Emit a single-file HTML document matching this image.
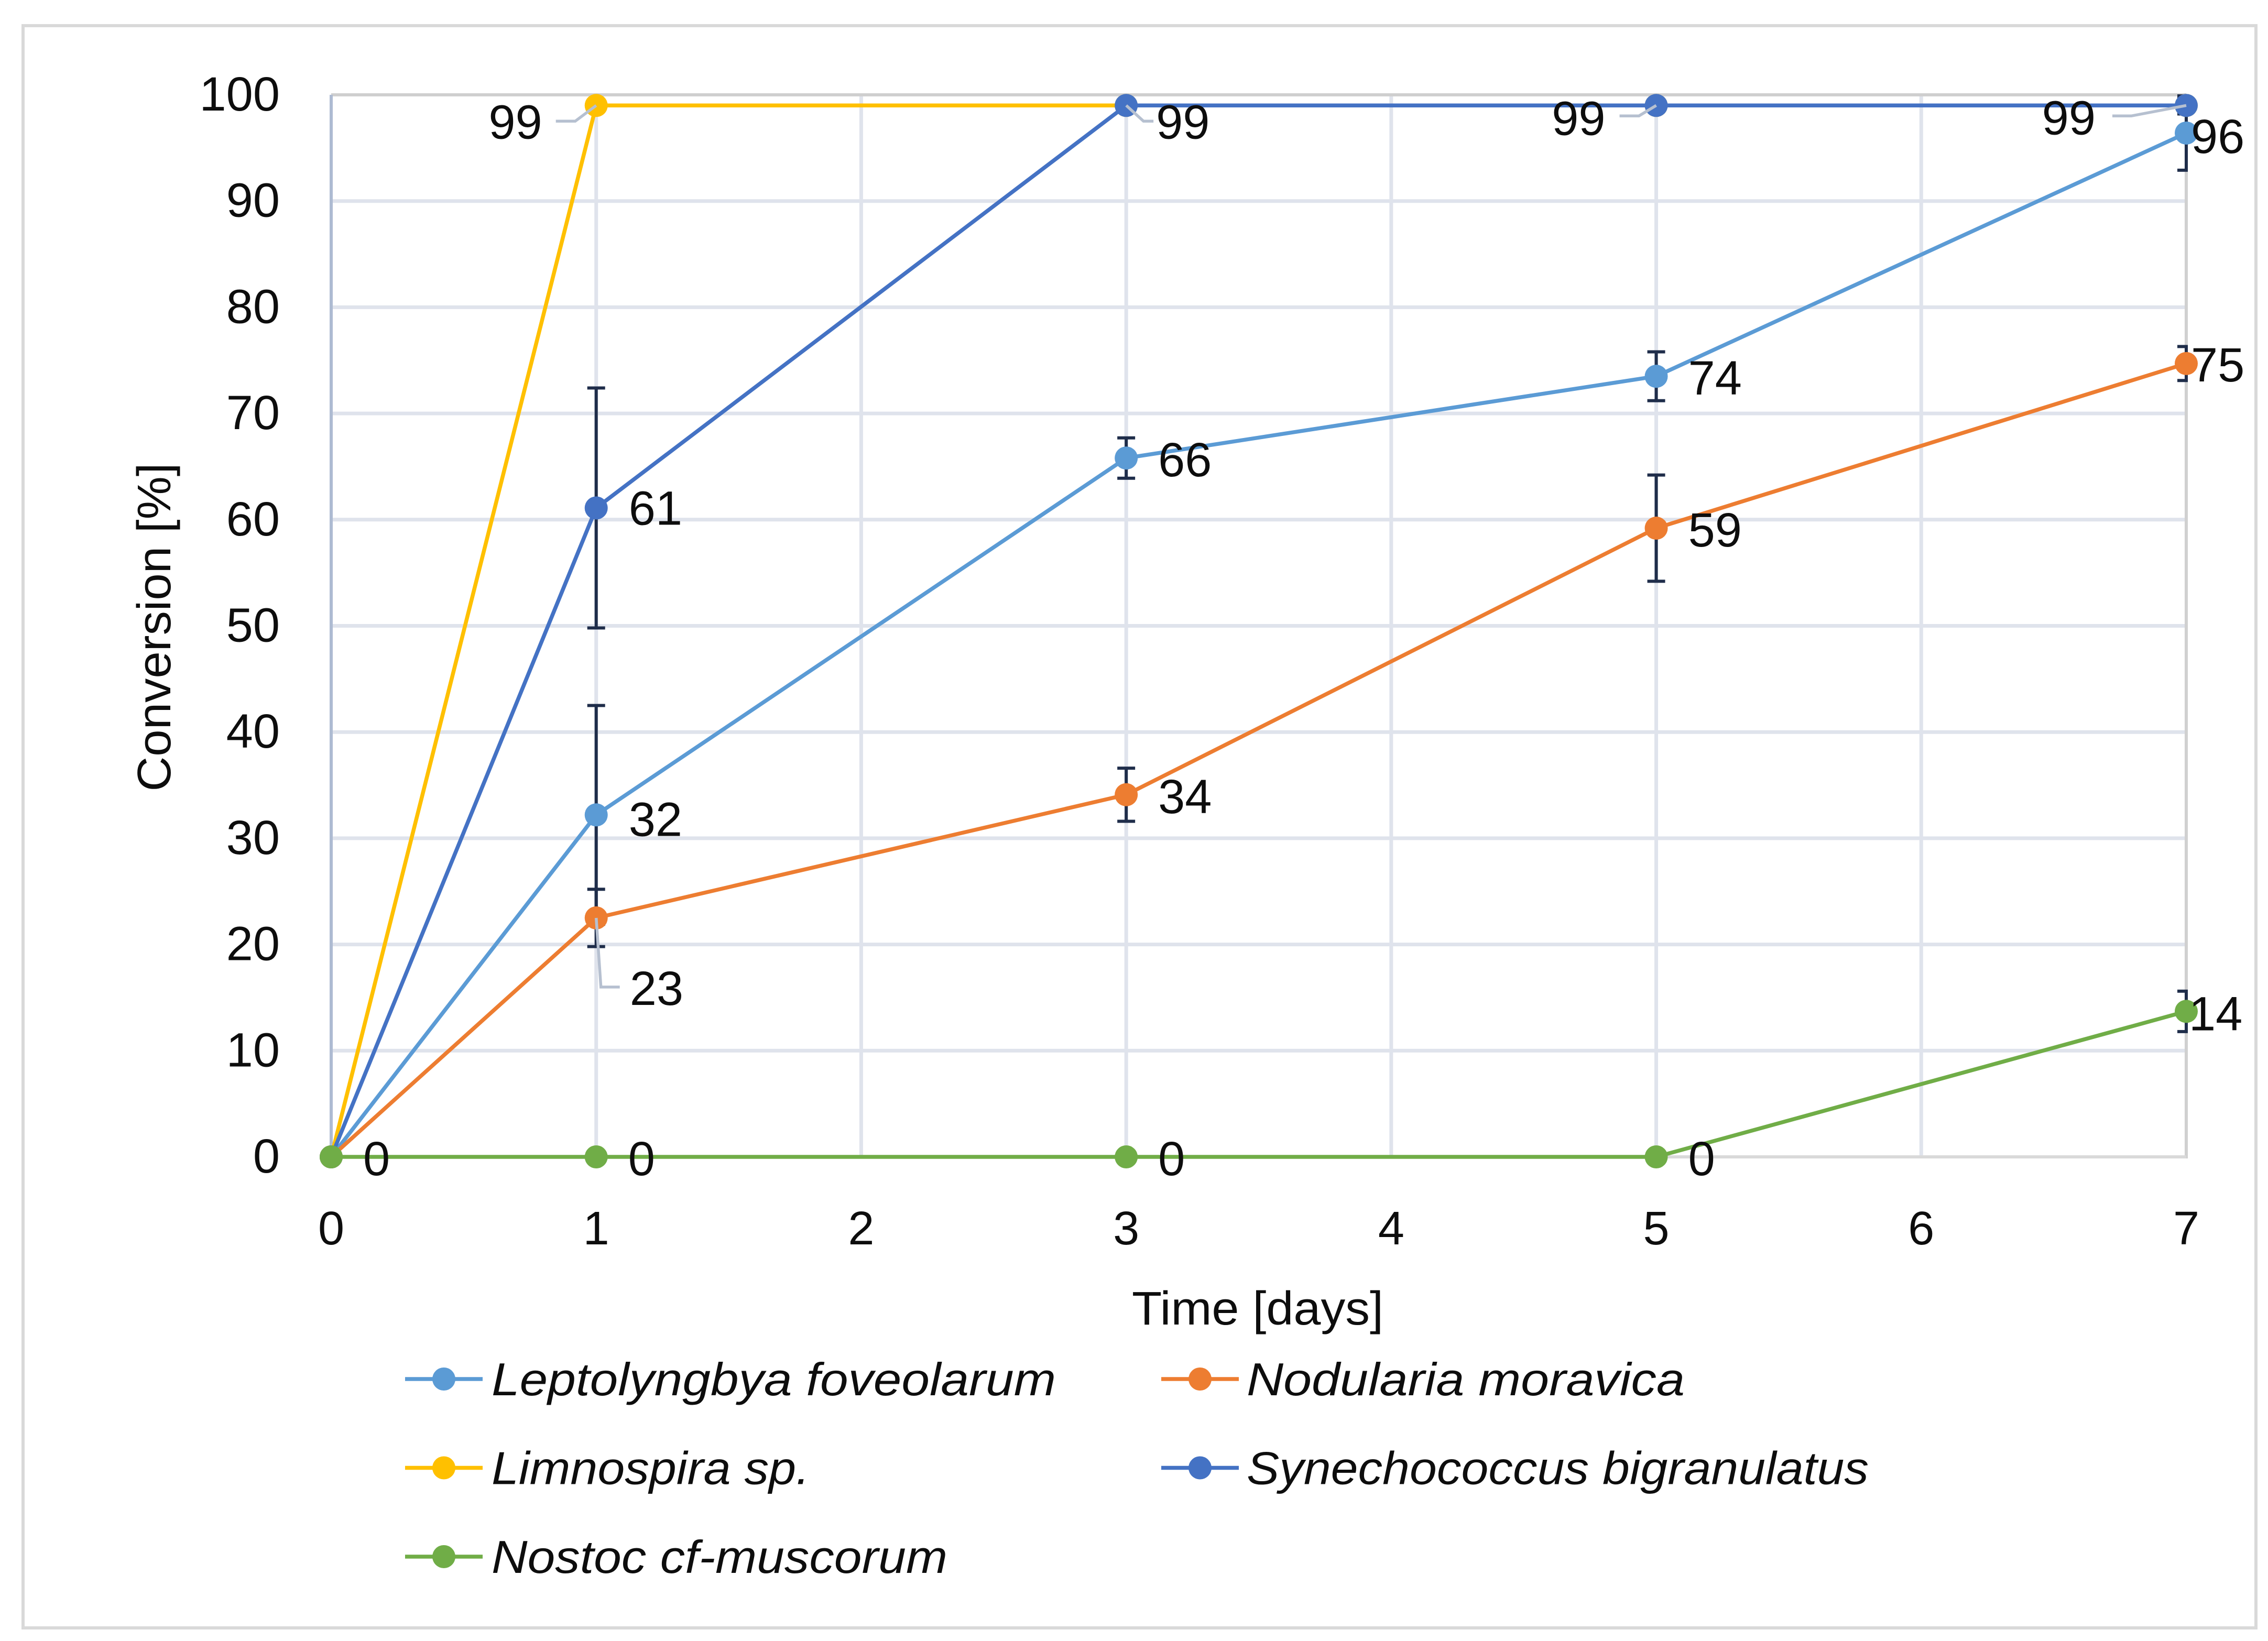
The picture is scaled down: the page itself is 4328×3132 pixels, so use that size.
<!DOCTYPE html>
<html lang="en">
<head>
<meta charset="utf-8">
<title>Conversion over time</title>
<style>
html,body{margin:0;padding:0;background:#fff;}
svg{display:block;}
text{font-family:"Liberation Sans",sans-serif;fill:#0d0d0d;}
</style>
</head>
<body>
<svg id="chart" xmlns="http://www.w3.org/2000/svg" width="4328" height="3132" viewBox="0 0 4328 3132">
  <rect x="0" y="0" width="4328" height="3132" fill="#ffffff"/>
  <rect x="44" y="49" width="4261" height="3058" fill="none" stroke="#d9d9d9" stroke-width="6"/>
  <g id="grid"></g>
  <g id="frame"></g>
  <g id="ticks"></g>
  <text transform="translate(325 1197) rotate(-90)" text-anchor="middle" font-size="90" textLength="627" lengthAdjust="spacingAndGlyphs">Conversion [%]</text>
  <text x="2400" y="2528" text-anchor="middle" font-size="90" textLength="480" lengthAdjust="spacingAndGlyphs">Time [days]</text>
  <g id="series"></g>
  <g id="labels"></g>
  <g id="legend"></g>
</svg>
<script>
// ---- chart data ----
const days = [0, 1, 3, 5, 7];
const xTicks = [0, 1, 2, 3, 4, 5, 6, 7];
const yTicks = [0, 10, 20, 30, 40, 50, 60, 70, 80, 90, 100];

const seriesNames = ['Leptolyngbya foveolarum', 'Nodularia moravica', 'Limnospira sp.', 'Synechococcus bigranulatus', 'Nostoc cf-muscorum'];
const seriesKeys = ['leptolyngbya', 'nodularia', 'limnospira', 'synechococcus', 'nostoc'];

const leptolyngbyaValues = [0, 32.2, 65.8, 73.5, 96.4];
const nodulariaValues = [0, 22.5, 34.1, 59.2, 74.7];
const limnospiraValues = [0, 99, 99, 99, 99];
const synechococcusValues = [0, 61.1, 99, 99, 99];
const nostocValues = [0, 0, 0, 0, 13.7];

const leptolyngbyaErrors = [0, 10.3, 1.9, 2.3, 3.5];
const nodulariaErrors = [0, 2.7, 2.5, 5, 1.6];
const limnospiraErrors = [0, 0, 0, 0, 0];
const synechococcusErrors = [0, 11.3, 0, 0, 0.8];
const nostocErrors = [0, 0, 0, 0, 1.9];

// indexes of the points that carry a printed value
const leptolyngbyaLabelled = [1, 2, 3, 4];
const nodulariaLabelled = [1, 2, 3, 4];
const limnospiraLabelled = [1];
const synechococcusLabelled = [1, 2, 3, 4];
const nostocLabelled = [0, 1, 2, 3, 4];

const allValues = [leptolyngbyaValues, nodulariaValues, limnospiraValues, synechococcusValues, nostocValues];
const allErrors = [leptolyngbyaErrors, nodulariaErrors, limnospiraErrors, synechococcusErrors, nostocErrors];
const allLabelled = [leptolyngbyaLabelled, nodulariaLabelled, limnospiraLabelled, synechococcusLabelled, nostocLabelled];

// ---- styling and layout ----
const seriesColors = ['#5b9bd5', '#ed7d31', '#ffc000', '#4472c4', '#70ad47'];
const legendTextWidths = [1077, 836, 607, 1187, 870];
const labelPlacement = {
  'limnospira-1': {dx: -103, dy: 63, anchor: 'end', leader: [[-40, 30], [-77, 30]]},
  'synechococcus-1': {dx: 62, dy: 32, anchor: 'start'},
  'synechococcus-2': {dx: 57, dy: 63, anchor: 'start', leader: [[33, 30], [52, 30]]},
  'synechococcus-3': {dx: -97, dy: 56, anchor: 'end', leader: [[-33, 20], [-70, 20]]},
  'synechococcus-4': {dx: -173, dy: 55, anchor: 'end', leader: [[-105, 20], [-141, 20]]},
  'leptolyngbya-1': {dx: 62, dy: 40, anchor: 'start'},
  'leptolyngbya-4': {dx: 9, dy: 38, anchor: 'start'},
  'nodularia-4': {dx: 9, dy: 34, anchor: 'start'},
  'nostoc-4': {dx: 5, dy: 36, anchor: 'start'},
  'nodularia-1': {dx: 64, dy: 166, anchor: 'start', leader: [[9, 132], [45, 132]]}
};

const plotLeft = 632, plotRight = 4172, plotTop = 181, plotBottom = 2208;
const xMin = 0, xMax = 7, yMin = 0, yMax = 100;
function xScale(v) { return plotLeft + (v - xMin) / (xMax - xMin) * (plotRight - plotLeft); }
function yScale(v) { return plotBottom - (v - yMin) / (yMax - yMin) * (plotBottom - plotTop); }

const NS = 'http://www.w3.org/2000/svg';
function svgEl(tag, parentId, attrs) {
  const el = document.createElementNS(NS, tag);
  for (const k in attrs) el.setAttribute(k, attrs[k]);
  document.getElementById(parentId).appendChild(el);
  return el;
}

// clip for the error bars: they stop just past the right edge of the plot
const defs = document.createElementNS(NS, 'defs');
const clip = document.createElementNS(NS, 'clipPath');
clip.setAttribute('id', 'plot-clip');
const clipRect = document.createElementNS(NS, 'rect');
clipRect.setAttribute('x', plotLeft - 30);
clipRect.setAttribute('y', plotTop - 20);
clipRect.setAttribute('width', plotRight - plotLeft + 33);
clipRect.setAttribute('height', plotBottom - plotTop + 40);
clip.appendChild(clipRect);
defs.appendChild(clip);
document.getElementById('chart').appendChild(defs);

// grid
yTicks.forEach(function (t) {
  if (t === yMin || t === yMax) return;
  const el = svgEl('line', 'grid', {x1: plotLeft, x2: plotRight, y1: yScale(t), y2: yScale(t), stroke: '#dfe3ec', 'stroke-width': 7});
  
  
});
xTicks.forEach(function (t) {
  if (t === xMin || t === xMax) return;
  const el = svgEl('line', 'grid', {x1: xScale(t), x2: xScale(t), y1: plotTop, y2: plotBottom, stroke: '#dfe3ec', 'stroke-width': 7});
  
  
});

// frame
const frameTop = svgEl('line', 'frame', {x1: plotLeft, x2: plotRight, y1: plotTop, y2: plotTop, stroke: '#cfcfcf', 'stroke-width': 6});


const frameRight = svgEl('line', 'frame', {x1: plotRight, x2: plotRight, y1: plotTop, y2: plotBottom + 3, stroke: '#d0d0d0', 'stroke-width': 6});


const frameBottom = svgEl('line', 'frame', {x1: plotLeft, x2: plotRight, y1: plotBottom, y2: plotBottom, stroke: '#d9d9d9', 'stroke-width': 6});


const frameLeft = svgEl('line', 'frame', {x1: plotLeft, x2: plotLeft, y1: plotTop, y2: plotBottom, stroke: '#aebbd2', 'stroke-width': 6});



// tick labels
yTicks.forEach(function (t) {
  const el = svgEl('text', 'ticks', {x: 534, y: yScale(t) + 30, 'text-anchor': 'end', 'font-size': 92});
  el.textContent = t;
  
  
});
xTicks.forEach(function (t) {
  const el = svgEl('text', 'ticks', {x: xScale(t), y: 2375, 'text-anchor': 'middle', 'font-size': 90});
  el.textContent = t;
  
  
});

// series: error bars, line, markers
allValues.forEach(function (values, s) {
  const key = seriesKeys[s];
  const errs = allErrors[s];
  const g = svgEl('g', 'series', {id: 'series-' + key});
  
  

  values.forEach(function (v, i) {
    if (!errs[i]) return;
    const cx = xScale(days[i]);
    const hi = yScale(v + errs[i]);
    const lo = yScale(v - errs[i]);
    const bar = svgEl('path', 'series-' + key, {
      d: 'M' + (cx - 17) + ' ' + hi + 'H' + (cx + 17) + 'M' + cx + ' ' + hi + 'V' + lo + 'M' + (cx - 17) + ' ' + lo + 'H' + (cx + 17),
      fill: 'none', stroke: '#1f2d4a', 'stroke-width': 6, 'clip-path': 'url(#plot-clip)'
    });
    
    
  });

  const pts = values.map(function (v, i) { return xScale(days[i]) + ',' + yScale(v); }).join(' ');
  const line = svgEl('polyline', 'series-' + key, {points: pts, fill: 'none', stroke: seriesColors[s], 'stroke-width': 7.5, 'stroke-linejoin': 'round'});
  
  

  values.forEach(function (v, i) {
    const dot = svgEl('circle', 'series-' + key, {cx: xScale(days[i]), cy: yScale(v), r: 22, fill: seriesColors[s]});
    
    
  });
});

// printed values and leader lines
allValues.forEach(function (values, s) {
  const key = seriesKeys[s];
  allLabelled[s].forEach(function (i) {
    const px = xScale(days[i]);
    const py = yScale(values[i]);
    const place = labelPlacement[key + '-' + i] || {dx: 61, dy: 35, anchor: 'start'};
    if (place.leader) {
      let d = 'M' + px + ' ' + py;
      place.leader.forEach(function (o) { d += 'L' + (px + o[0]) + ' ' + (py + o[1]); });
      const lead = svgEl('path', 'labels', {d: d, fill: 'none', stroke: '#b6c0d0', 'stroke-width': 5.5});
      
      
    }
    const t = svgEl('text', 'labels', {x: px + place.dx, y: py + place.dy, 'text-anchor': place.anchor, 'font-size': 92});
    t.textContent = Math.round(values[i]);
    
    
  });
});

// legend
seriesNames.forEach(function (name, s) {
  const key = seriesKeys[s];
  const col = s % 2;
  const row = Math.floor(s / 2);
  const x0 = col === 0 ? 773 : 2216;
  const yRow = 2632 + row * 169.5;
  const g = svgEl('g', 'legend', {id: 'legend-' + key});
  
  
  const swatch = svgEl('line', 'legend-' + key, {x1: x0, x2: x0 + 148, y1: yRow, y2: yRow, stroke: seriesColors[s], 'stroke-width': 7.5});
  
  
  const dot = svgEl('circle', 'legend-' + key, {cx: x0 + 74, cy: yRow, r: 22, fill: seriesColors[s]});
  
  
  const label = svgEl('text', 'legend-' + key, {x: x0 + (col === 0 ? 165 : 163), y: yRow + 31, 'font-size': 88, 'font-style': 'italic', textLength: legendTextWidths[s], lengthAdjust: 'spacingAndGlyphs'});
  label.textContent = name;
  
  
});
</script>
</body>
</html>
